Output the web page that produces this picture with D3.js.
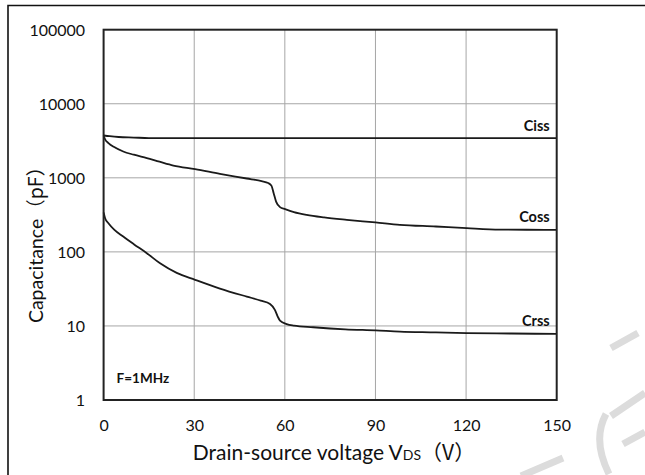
<!DOCTYPE html>
<html>
<head>
<meta charset="utf-8">
<script src="https://cdn.jsdelivr.net/npm/d3@7"></script>
<style>
  html, body { margin: 0; padding: 0; background: #fff; }
  svg { display: block; }
</style>
</head>
<body>
<svg id="chart" width="645" height="475"></svg>
<script>
// Drain-source voltage (V) and capacitance (pF) for each curve
const cissV = [0, 2, 5, 10, 15, 30, 60, 90, 120, 150];
const cissC = [3730, 3650, 3560, 3500, 3440, 3440, 3440, 3440, 3440, 3440];

const cossV = [0, 0.5, 1.6, 3.5, 6.5, 10, 14.3, 18.5, 23.1, 30.3, 38.5, 47.4, 52.3, 54.5, 55.6, 56.3, 57.1, 58.4, 60.1, 63, 67.2, 73, 80.5, 90, 98.1, 110, 120.2, 131.2, 140, 150];
const cossC = [3730, 3300, 2944, 2600, 2266, 2050, 1845, 1650, 1466, 1310, 1133, 979, 902, 850, 779, 620, 478, 402, 378, 345, 316, 292, 271, 250, 232, 220, 209, 200, 199, 198];

const crssV = [0, 0.5, 1.6, 3.5, 6.5, 10, 14.3, 18.7, 24.2, 30.3, 38.5, 47.4, 52, 55.1, 56.7, 57.6, 58.4, 60.6, 63, 69.4, 80, 90, 98.1, 110, 120.2, 135, 150];
const crssC = [340, 285, 244, 200, 161, 127, 96, 70, 52, 42, 32, 24.9, 22, 19.8, 16.5, 13.5, 11.8, 10.6, 10.1, 9.6, 9.0, 8.7, 8.4, 8.2, 8.0, 7.9, 7.8];

const seriesNames = ["Ciss", "Coss", "Crss"];
const xTicks = [0, 30, 60, 90, 120, 150];
const yTicks = [1, 10, 100, 1000, 10000, 100000];

const svg = d3.select("#chart");
const font = "Lato, 'Open Sans', sans-serif";

const plot = { left: 103.6, right: 556.7, top: 29.7, bottom: 400 };
const x = d3.scaleLinear().domain([0, 150]).range([plot.left, plot.right]);
const y = d3.scaleLog().domain([1, 100000]).range([plot.bottom, plot.top]);

// outer frame (top and left edges)
svg.append("path")
  .attr("d", "M8,475 L8,5.5 L645,5.5")
  .attr("fill", "none").attr("stroke", "#111").attr("stroke-width", 1.6);

// faint background marks in the lower right corner
const wm = svg.append("g").attr("fill", "none").attr("stroke", "#dcdcdc")
  .attr("stroke-width", 7).attr("stroke-linecap", "butt");
[
  "M521,476 L563,458",
  "M606,414 Q592,440 609,474",
  "M611,348 L638,333",
  "M611,416 L645,393",
  "M623,444 L645,432"
].forEach(d => wm.append("path").attr("d", d));

// grid lines
const grid = svg.append("g").attr("stroke", "#a6a6a6").attr("stroke-width", 1);
grid.selectAll("line.gx").data(xTicks.slice(1, -1)).join("line")
  .attr("x1", d => x(d)).attr("x2", d => x(d))
  .attr("y1", plot.top).attr("y2", plot.bottom);
grid.selectAll("line.gy").data(yTicks.slice(1, -1)).join("line")
  .attr("x1", plot.left).attr("x2", plot.right)
  .attr("y1", d => y(d)).attr("y2", d => y(d));

// axes: tick labels only, no tick marks
const xAxis = d3.axisBottom(x).tickValues(xTicks).tickSize(0).tickPadding(0).tickFormat(d3.format("d"));
const gx = svg.append("g").attr("transform", `translate(0,${plot.bottom})`).call(xAxis);
gx.select(".domain").remove();
gx.selectAll("text").attr("y", 31).attr("dy", 0)
  .attr("font-family", font).attr("font-size", 16).attr("fill", "#111");

const yAxis = d3.axisLeft(y).tickValues(yTicks).tickSize(0).tickPadding(0).tickFormat(d3.format("d"));
const gy = svg.append("g").attr("transform", `translate(${plot.left},0)`).call(yAxis);
gy.select(".domain").remove();
gy.selectAll("text").attr("x", -18.5).attr("dy", "0.36em")
  .attr("font-family", font).attr("font-size", 16).attr("fill", "#111");

// curves
const line = d3.line().x(d => x(d[0])).y(d => y(d[1])).curve(d3.curveMonotoneX);
const curves = [
  d3.zip(cissV, cissC),
  d3.zip(cossV, cossC),
  d3.zip(crssV, crssC)
];
svg.append("g").selectAll("path").data(curves).join("path")
  .attr("d", line)
  .attr("fill", "none").attr("stroke", "#1a1a1a").attr("stroke-width", 1.8);

// plot frame
svg.append("rect")
  .attr("x", plot.left).attr("y", plot.top)
  .attr("width", plot.right - plot.left).attr("height", plot.bottom - plot.top)
  .attr("fill", "none").attr("stroke", "#222").attr("stroke-width", 2);

// curve labels
const lastVals = [cissC[cissC.length - 1], cossC[cossC.length - 1], crssC[crssC.length - 1]];
svg.append("g").selectAll("text").data(seriesNames).join("text")
  .attr("x", plot.right - 7)
  .attr("y", (d, i) => y(lastVals[i]) - 7.5)
  .attr("text-anchor", "end")
  .attr("font-family", font).attr("font-weight", 700).attr("font-size", 14.5)
  .attr("fill", "#111")
  .text(d => d);

// measurement note
svg.append("text")
  .attr("x", plot.left + 13).attr("y", 383)
  .attr("font-family", font).attr("font-weight", 700).attr("font-size", 13.5)
  .attr("fill", "#111")
  .text("F=1MHz");

// axis titles
const xt = svg.append("text")
  .attr("x", 334).attr("y", 460)
  .attr("text-anchor", "middle")
  .attr("font-family", font).attr("font-size", 21).attr("fill", "#111");
xt.append("tspan").text("Drain-source voltage V");
xt.append("tspan").attr("font-size", 14).text("DS");
xt.append("tspan").attr("font-family", "'Noto Sans CJK SC', " + font).text("（V）");

svg.append("text")
  .attr("transform", "translate(43,240) rotate(-90)")
  .attr("text-anchor", "middle")
  .attr("font-family", font).attr("font-size", 19.5).attr("fill", "#111")
  .call(t => {
    t.append("tspan").text("Capacitance");
    t.append("tspan").attr("font-family", "'Noto Sans CJK SC', " + font).text("（pF）");
  });
</script>
</body>
</html>
